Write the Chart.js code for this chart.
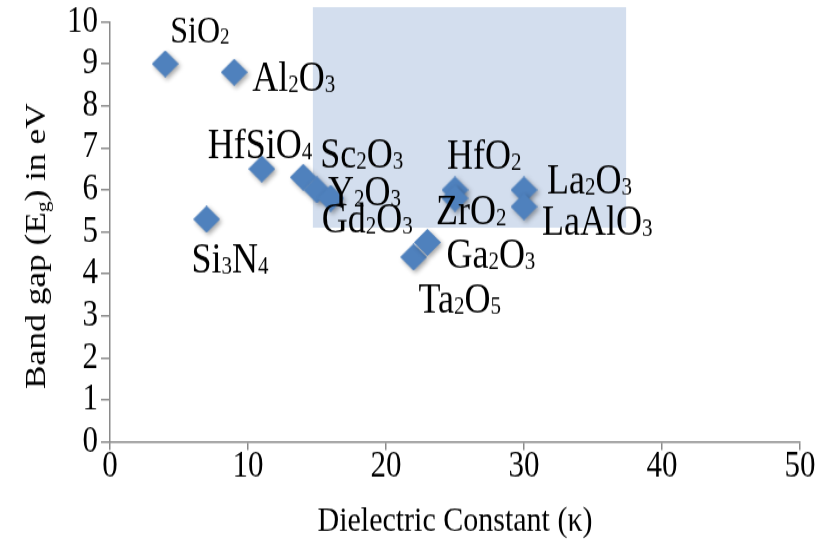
<!DOCTYPE html>
<html>
<head>
<meta charset="utf-8">
<script src="https://cdn.jsdelivr.net/npm/chart.js@4.4.0/dist/chart.umd.min.js"></script>
<style>
  html, body { margin: 0; padding: 0; background: #ffffff; }
</style>
</head>
<body>
<canvas id="c" width="820" height="462" style="display:block;width:820px;height:545px"></canvas>
<script>
// Gate dielectric candidates: dielectric constant vs band gap
const materials = ['SiO2', 'Al2O3', 'HfSiO4', 'Si3N4', 'Sc2O3', 'Y2O3', 'Gd2O3',
                   'Ta2O5', 'Ga2O3', 'HfO2', 'ZrO2', 'La2O3', 'LaAlO3'];
const kappa   = [4, 9, 11, 7, 14, 15, 16, 22, 23, 25, 25, 30, 30];
const bandGap = [9.0, 8.8, 6.5, 5.3, 6.3, 6.0, 5.8, 4.4, 4.75, 6.0, 5.8, 6.0, 5.6];

const xTicks = [0, 10, 20, 30, 40, 50];
const yTicks = [0, 1, 2, 3, 4, 5, 6, 7, 8, 9, 10];

// Highlighted target window (kappa range, band gap range)
const windowKappa = [14.7, 37.4];
const windowGap   = [5.1, 10.35];

const FONT = "'Liberation Serif', 'Times New Roman', serif";
const AXIS_GREY = '#8a8a8a';
const MARKER_BLUE = '#4F81BD';
const WINDOW_FILL = '#D3DEEE';

// Label placement: offset of text start/baseline from the marker centre
const labelOffset = {
  SiO2:   [5, -18],  Al2O3: [18, 16],  HfSiO4: [-54, -9], Si3N4: [-15, 45],
  Sc2O3:  [17, -8],  Y2O3:  [11, 13],  Gd2O3:  [-9, 29],  Ta2O5: [5, 47],
  Ga2O3:  [19, 22],  HfO2:  [-8, -18], ZrO2:   [-19, 22], La2O3: [23, 3],
  LaAlO3: [18, 24]
};
const labelSize = { default: 36, SiO2: 32 };

// Diamond marker with a slightly taller-than-wide aspect
function diamond(w, h, color) {
  const c = document.createElement('canvas');
  c.width = w; c.height = h;
  const g = c.getContext('2d');
  g.fillStyle = color;
  g.beginPath();
  g.moveTo(w / 2, 0); g.lineTo(w, h / 2); g.lineTo(w / 2, h); g.lineTo(0, h / 2);
  g.closePath();
  g.fill();
  return c;
}

// Chemical formula with digits set as small subscripts
function drawFormula(ctx, text, x, y, size) {
  let cx = x;
  const runs = text.match(/[0-9]+|[^0-9]+/g);
  for (const r of runs) {
    const sub = /^[0-9]/.test(r);
    ctx.font = (sub ? Math.round(size * 0.58) : size) + 'px ' + FONT;
    ctx.fillText(r, cx, y + (sub ? 1 : 0));
    cx += ctx.measureText(r).width;
  }
}

const windowPlugin = {
  id: 'targetWindow',
  beforeDatasetsDraw(chart) {
    const { ctx, scales: { x, y } } = chart;
    const x0 = x.getPixelForValue(windowKappa[0]);
    const x1 = x.getPixelForValue(windowKappa[1]);
    const y0 = y.getPixelForValue(windowGap[1]);
    const y1 = y.getPixelForValue(windowGap[0]);
    ctx.save();
    ctx.fillStyle = WINDOW_FILL;
    ctx.fillRect(x0, y0, x1 - x0, y1 - y0);
    ctx.restore();
  }
};

const shadowPlugin = {
  id: 'markerShadow',
  beforeDatasetDraw(chart) {
    const ctx = chart.ctx;
    ctx.shadowColor = 'rgba(0,0,0,0.35)';
    ctx.shadowBlur = 4;
    ctx.shadowOffsetX = 2;
    ctx.shadowOffsetY = 2;
  },
  afterDatasetDraw(chart) {
    const ctx = chart.ctx;
    ctx.shadowColor = 'rgba(0,0,0,0)';
    ctx.shadowBlur = 0;
    ctx.shadowOffsetX = 0;
    ctx.shadowOffsetY = 0;
  }
};

const labelPlugin = {
  id: 'materialLabels',
  afterDatasetsDraw(chart) {
    const ctx = chart.ctx;
    const meta = chart.getDatasetMeta(0);
    ctx.save();
    ctx.fillStyle = '#000';
    ctx.textAlign = 'left';
    ctx.textBaseline = 'alphabetic';
    meta.data.forEach((pt, i) => {
      const name = materials[i];
      const off = labelOffset[name];
      const size = labelSize[name] || labelSize.default;
      drawFormula(ctx, name, pt.x + off[0], pt.y + off[1], size);
    });
    ctx.restore();
  }
};

// Vertical axis title with subscripted g
const yTitlePlugin = {
  id: 'yTitle',
  afterDraw(chart) {
    const ctx = chart.ctx;
    const area = chart.chartArea;
    const size = 30, subSize = 18;
    const parts = [['Band gap (E', size, 0], ['g', subSize, 4], [') in eV', size, 0]];
    ctx.save();
    let total = 0;
    parts.forEach(p => { ctx.font = p[1] + 'px ' + FONT; total += ctx.measureText(p[0]).width; });
    const cy = (area.top + area.bottom) / 2 + 12;
    ctx.translate(45, cy);
    ctx.rotate(-Math.PI / 2);
    ctx.fillStyle = '#000';
    ctx.textBaseline = 'alphabetic';
    let px = -total / 2;
    parts.forEach(p => {
      ctx.font = p[1] + 'px ' + FONT;
      ctx.fillText(p[0], px, p[2]);
      px += ctx.measureText(p[0]).width;
    });
    ctx.restore();
  }
};

const axisCommon = (tickLength) => ({
  type: 'linear',
  grid: { display: true, drawOnChartArea: false, drawTicks: true, tickLength: tickLength,
          color: AXIS_GREY, tickColor: AXIS_GREY, lineWidth: 1.5, tickWidth: 1.5 },
  border: { display: true, color: AXIS_GREY, width: 1.5 }
});

new Chart(document.getElementById('c'), {
  type: 'scatter',
  data: {
    datasets: [{
      label: 'Band gap',
      data: kappa.map((k, i) => ({ x: k, y: bandGap[i] })),
      pointStyle: diamond(27, 23, MARKER_BLUE),
      pointRadius: 12,
      pointHoverRadius: 12,
      backgroundColor: MARKER_BLUE,
      borderWidth: 0
    }]
  },
  options: {
    responsive: false,
    animation: false,
    devicePixelRatio: 1,
    layout: { padding: { top: 18, right: 20, left: 0, bottom: 0 } },
    plugins: { legend: { display: false }, tooltip: { enabled: false } },
    scales: {
      x: Object.assign(axisCommon(7), {
        min: 0, max: 50,
        afterBuildTicks: s => { s.ticks = xTicks.map(v => ({ value: v })); },
        ticks: { color: '#000', font: { family: FONT, size: 31, lineHeight: 1 }, padding: -1, maxRotation: 0 },
        title: { display: true, text: 'Dielectric Constant (κ)', color: '#000',
                 font: { family: FONT, size: 30, lineHeight: 1.2 }, padding: { top: 0, bottom: 2 } },
        afterFit: s => { s.height = 87.4; }
      }),
      y: Object.assign(axisCommon(9), {
        min: 0, max: 10,
        afterBuildTicks: s => { s.ticks = yTicks.map(v => ({ value: v })); },
        ticks: { color: '#000', font: { family: FONT, size: 31, lineHeight: 1 }, padding: 3 },
        title: { display: false },
        afterFit: s => { s.width = 110; }
      })
    }
  },
  plugins: [windowPlugin, shadowPlugin, labelPlugin, yTitlePlugin]
});
</script>
</body>
</html>
